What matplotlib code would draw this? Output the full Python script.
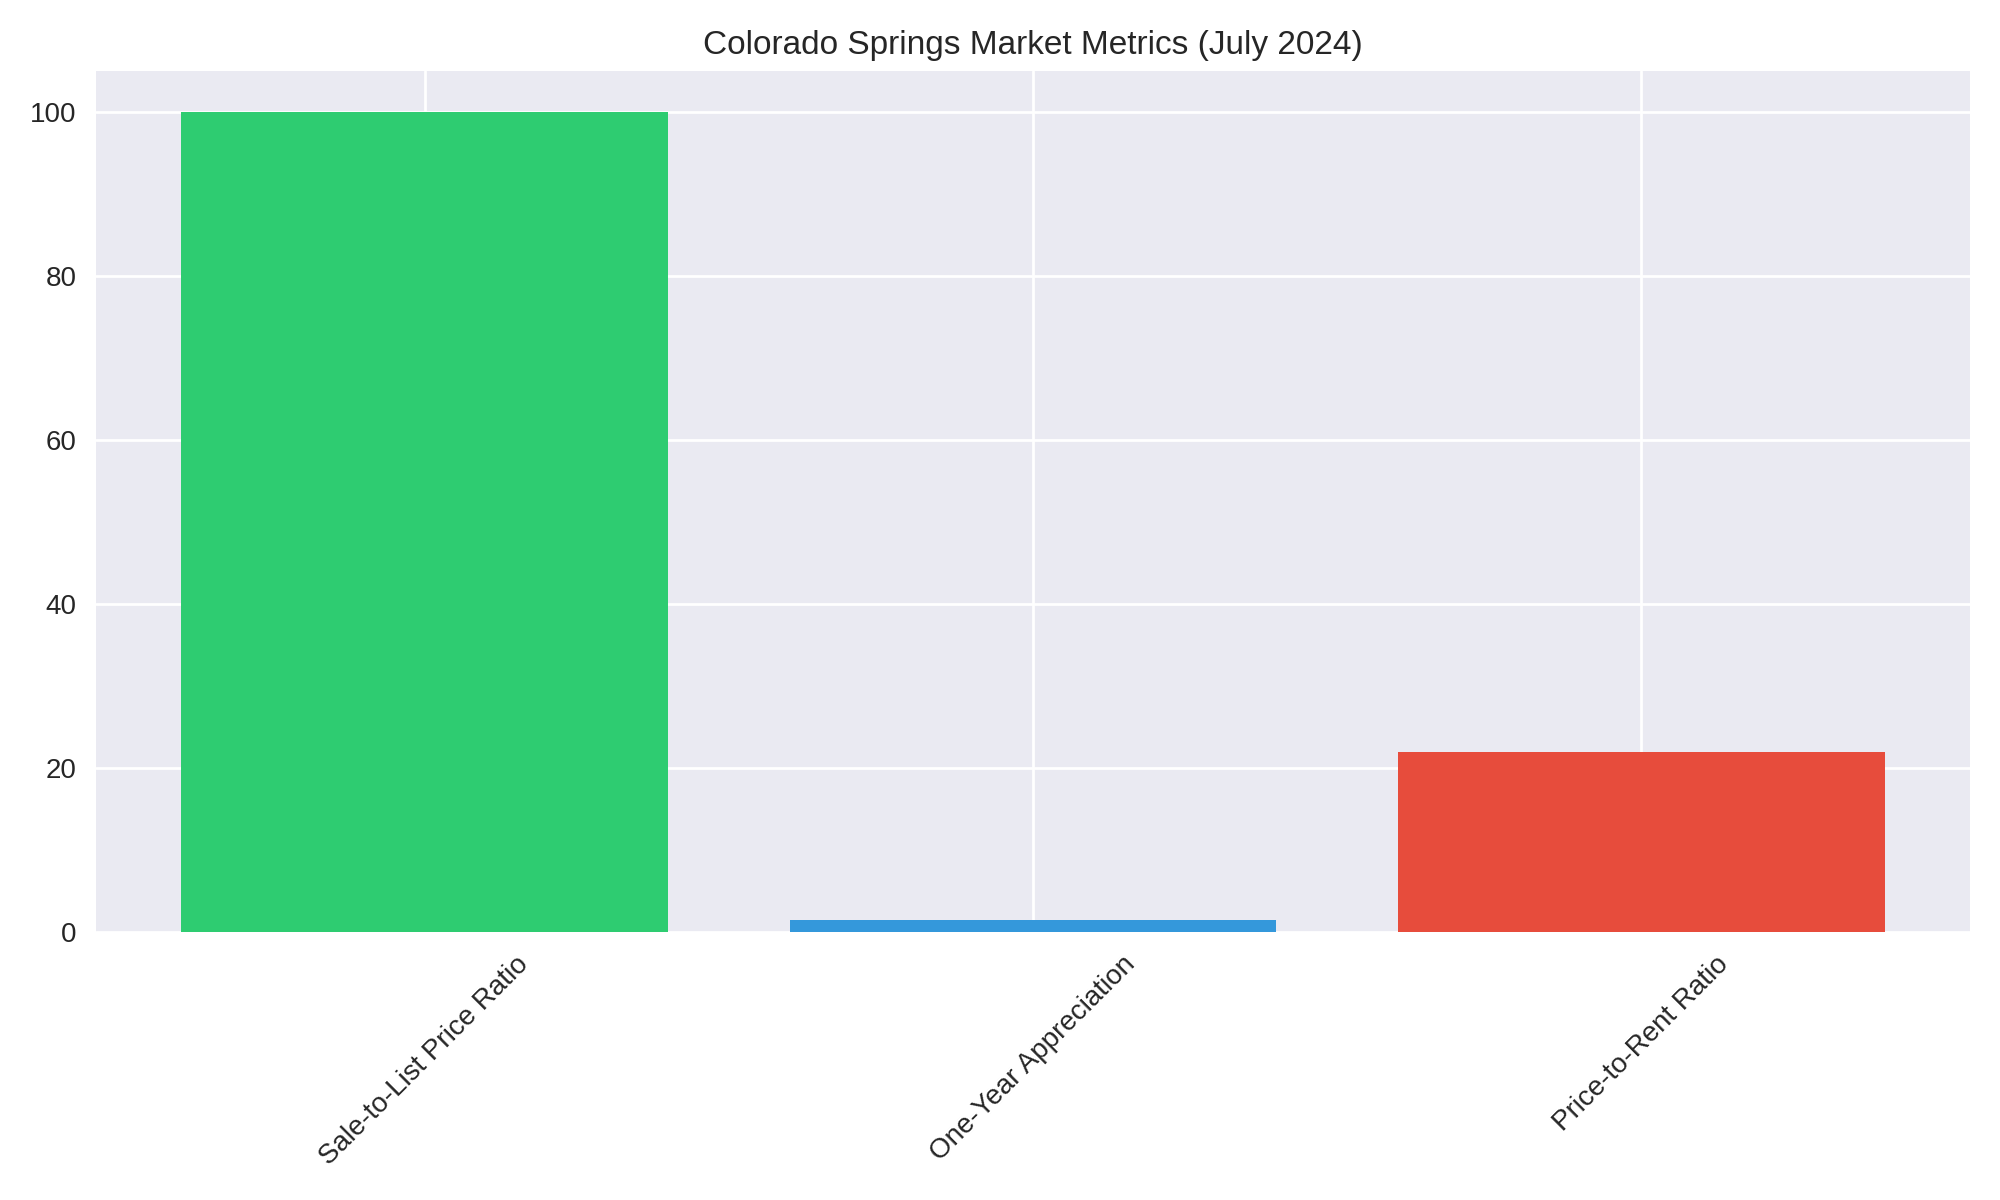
import matplotlib
matplotlib.use("Agg")
import matplotlib.pyplot as plt

categories = ["Sale-to-List Price Ratio", "One-Year Appreciation", "Price-to-Rent Ratio"]
values = [100.0, 1.4, 21.9]
colors = ["#2ecc71", "#3498db", "#e74c3c"]

plt.style.use("seaborn-v0_8")
fig, ax = plt.subplots(figsize=(10, 6), dpi=200)
ax.bar(categories, values, color=colors)
ax.set_title("Colorado Springs Market Metrics (July 2024)", fontsize=12)
plt.xticks(rotation=45)
plt.tight_layout()
fig.savefig("out.png")
